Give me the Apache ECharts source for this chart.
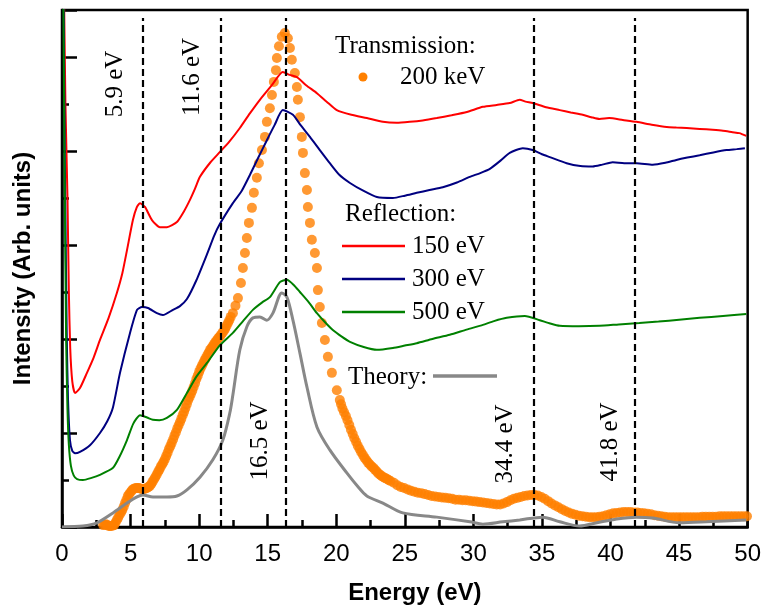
<!DOCTYPE html>
<html>
<head>
<meta charset="utf-8">
<script src="https://cdn.jsdelivr.net/npm/echarts@6/dist/echarts.min.js"></script>
<style>html,body{margin:0;padding:0;background:#fff}#c{width:764px;height:610px}</style>
</head>
<body>
<div id="c"></div>
<script>
// ---- data (Energy in eV, intensity in arbitrary units) ----
const xTicks = [0, 5, 10, 15, 20, 25, 30, 35, 40, 45, 50];
const peakLines = [5.9, 11.6, 16.3, 34.4, 41.8];
const peakLabels = ['5.9 eV', '11.6 eV', '16.5 eV', '34.4 eV', '41.8 eV'];

const reflection150 = [
  [0.12,12],[0.25,9],[0.4,7],[0.5,5],[0.6,3.8],[0.75,3.1],[0.95,2.85],[1.3,2.95],[1.82,3.28],[2.3,3.6],[2.77,3.98],
  [3.4,4.45],[4.0,4.98],[4.4,5.4],[4.74,5.89],[5.17,6.53],[5.45,6.8],[5.69,6.89],[6.05,6.81],[6.56,6.53],[7.14,6.38],
  [7.65,6.38],[8.38,6.49],[8.9,6.72],[9.33,6.96],[9.7,7.2],[10.06,7.45],[10.8,7.75],[11.52,7.98],[12.2,8.2],[12.97,8.49],[13.7,8.8],
  [14.43,9.09],[15.3,9.4],[16.1,9.68],[16.6,9.62],[17.13,9.57],[17.8,9.4],[18.59,9.23],[19.3,9.05],[20.04,8.87],[21.1,8.77],
  [22.23,8.70],[23.4,8.62],[24.4,8.60],[25.36,8.62],[26.3,8.65],[27.33,8.70],[28.4,8.76],[29.52,8.83],[30.69,8.94],[31.7,8.98],
  [32.65,9.02],[33.38,9.09],[33.8,9.05],[34.33,9.02],[35.3,8.93],[36.3,8.87],[37.1,8.82],[37.97,8.77],[38.6,8.72],[39.2,8.68],
  [39.9,8.70],[40.9,8.66],[41.9,8.62],[43.0,8.56],[44.1,8.51],[44.8,8.50],[45.55,8.49],[46.5,8.47],[47.45,8.45],[48.2,8.43],
  [48.9,8.40],[49.4,8.38],[49.9,8.32]
];
const reflection300 = [
  [0.1,12],[0.2,8],[0.35,4],[0.44,2.7],[0.58,1.85],[0.75,1.62],[0.95,1.57],[1.31,1.60],[2.04,1.74],[2.77,2.0],[3.3,2.25],
  [3.72,2.55],[4.23,3.28],[4.96,4.13],[5.47,4.62],[5.83,4.68],[6.27,4.66],[6.92,4.55],[7.36,4.51],[8.09,4.62],[8.6,4.70],[9.11,4.85],
  [9.8,5.25],[10.57,5.80],[11.1,6.2],[11.52,6.45],[12.46,6.89],[13.1,7.15],[13.7,7.49],[14.3,7.85],[14.94,8.23],[15.5,8.55],[16.1,8.87],
  [16.84,8.77],[17.4,8.55],[18.08,8.30],[18.8,8.02],[19.53,7.74],[20.2,7.50],[21.0,7.32],[22.0,7.15],[22.96,7.02],[24.13,7.0],
  [25.0,7.05],[25.87,7.11],[26.8,7.17],[27.77,7.23],[28.8,7.33],[29.74,7.45],[30.5,7.53],[31.2,7.62],[32.0,7.80],[32.65,7.96],
  [33.6,8.06],[34.33,8.02],[35.0,7.93],[35.57,7.87],[36.8,7.74],[37.8,7.68],[38.7,7.67],[39.4,7.71],[40.16,7.76],[41.0,7.74],
  [41.9,7.74],[43.08,7.71],[44.0,7.75],[44.8,7.81],[45.6,7.86],[46.5,7.91],[47.5,7.97],[48.47,8.02],[49.2,8.04],[49.8,8.06]
];
const reflection500 = [
  [0.08,12],[0.18,8],[0.3,4],[0.4,2.5],[0.5,1.75],[0.65,1.3],[0.85,1.1],[1.1,1.02],[1.53,1.0],[2.1,1.04],[2.77,1.11],
  [3.72,1.26],[4.2,1.5],[4.74,1.85],[5.2,2.2],[5.69,2.38],[6.2,2.33],[6.63,2.28],[7.1,2.27],[7.65,2.32],[8.38,2.49],[9.11,2.85],
  [9.8,3.2],[10.57,3.49],[11.52,3.87],[12.46,4.13],[13.2,4.38],[13.92,4.62],[14.6,4.78],[15.16,4.89],[15.89,5.21],[16.4,5.26],
  [16.9,5.15],[17.35,5.0],[18.0,4.78],[18.59,4.55],[19.2,4.35],[19.75,4.19],[20.4,4.05],[21.0,3.94],[22.0,3.83],[22.96,3.77],
  [24.13,3.81],[25.0,3.86],[25.87,3.91],[27.0,4.0],[28.28,4.09],[29.5,4.2],[30.69,4.30],[31.5,4.38],[32.43,4.45],[33.75,4.49],
  [34.84,4.40],[35.6,4.33],[36.3,4.28],[37.7,4.27],[39.2,4.28],[40.6,4.31],[42.1,4.34],[43.5,4.37],[45.0,4.41],[46.5,4.45],
  [48.2,4.49],[49.9,4.53]
];
const theory = [
  [0,0],[1.53,0.02],[2.55,0.09],[3.72,0.30],[4.74,0.51],[5.47,0.64],[5.9,0.68],[6.63,0.64],[7.65,0.64],[8.38,0.66],[9.11,0.79],
  [10.06,1.06],[11.0,1.43],[11.73,1.85],[12.24,2.43],[12.46,2.81],[12.97,3.77],[13.48,4.26],[13.92,4.45],[14.43,4.47],
  [14.94,4.40],[15.38,4.55],[16.03,4.98],[16.4,4.89],[16.84,4.40],[17.35,3.70],[17.86,2.98],[18.59,2.13],[19.53,1.64],
  [20.77,1.15],[21.6,0.85],[22.23,0.66],[23.4,0.51],[24.85,0.30],[27.33,0.21],[29.74,0.11],[30.69,0.06],[32.14,0.11],[33.38,0.15],
  [35.06,0.21],[36.3,0.11],[37.75,0.02],[39.0,0.09],[40.45,0.17],[41.9,0.21],[43.08,0.19],[45.04,0.09],[47.0,0.11],[49.9,0.15]
];
const transmission200keV = [
  [3.0,0.04],[3.1,0.05],[3.2,0.06],[3.3,0.04],[3.4,0.02],[3.5,0.02],[3.6,0.02],[3.7,0.03],[3.8,0.04],[3.9,0.09],
  [4.0,0.15],[4.1,0.20],[4.2,0.26],[4.3,0.31],[4.4,0.36],[4.5,0.43],[4.6,0.51],[4.7,0.58],[4.8,0.66],[4.9,0.70],
  [5.0,0.74],[5.1,0.78],[5.2,0.81],[5.3,0.82],[5.4,0.83],[5.5,0.83],[5.6,0.83],[5.7,0.82],[5.8,0.81],[5.9,0.81],
  [6.0,0.81],[6.1,0.82],[6.2,0.83],[6.3,0.85],[6.4,0.87],[6.5,0.91],[6.6,0.96],[6.7,1.01],[6.8,1.06],[6.9,1.11],
  [7.0,1.17],[7.1,1.22],[7.2,1.28],[7.3,1.33],[7.4,1.38],[7.5,1.44],[7.6,1.51],[7.7,1.58],[7.8,1.66],[7.9,1.72],
  [8.0,1.79],[8.1,1.86],[8.2,1.94],[8.3,2.01],[8.4,2.09],[8.5,2.16],[8.6,2.23],[8.7,2.30],[8.8,2.38],[8.9,2.45],
  [9.0,2.53],[9.1,2.61],[9.2,2.70],[9.3,2.76],[9.4,2.83],[9.5,2.90],[9.6,2.98],[9.7,3.06],[9.8,3.15],[9.9,3.22],
  [10.0,3.30],[10.1,3.37],[10.2,3.43],[10.3,3.49],[10.4,3.55],[10.5,3.60],[10.6,3.66],[10.7,3.71],[10.8,3.77],[10.9,3.81],
  [11.0,3.85],[11.1,3.90],[11.2,3.94],[11.3,3.98],[11.4,4.02],[11.5,4.05],[11.6,4.09],[11.7,4.13],[11.8,4.17],[11.9,4.22],
  [12.0,4.28],[12.1,4.34],[12.2,4.40],[12.3,4.47],[12.46,4.55],[12.65,4.71],[12.83,4.87],[13.05,5.19],[13.19,5.51],[13.34,5.83],[13.48,6.15],
  [13.63,6.47],[13.85,6.79],[13.99,7.11],[14.21,7.43],[14.36,7.74],[14.58,8.02],[14.80,8.30],[14.94,8.62],[15.16,8.91],
  [15.31,9.19],[15.45,9.47],[15.6,9.72],[15.67,9.98],[15.82,10.23],[16.03,10.43],[16.25,10.51],[16.47,10.40],[16.62,10.19],
  [16.76,9.94],[16.98,9.66],[17.13,9.36],[17.2,9.09],[17.35,8.72],[17.49,8.30],[17.57,7.96],[17.71,7.53],[17.86,7.17],
  [17.93,6.81],[18.08,6.47],[18.22,6.11],[18.44,5.83],[18.59,5.51],[18.66,5.04],[18.8,4.68],[18.95,4.34],[19.17,3.98],
  [19.39,3.62],[19.68,3.28],[20.04,2.91],[20.26,2.70],[20.35,2.61],[20.45,2.52],[20.57,2.44],[20.7,2.36],[20.82,2.27],
  [20.95,2.17],[21.07,2.07],[21.2,1.98],[21.32,1.89],[21.45,1.81],[21.57,1.73],[21.7,1.66],[21.82,1.59],[21.95,1.53],
  [22.07,1.47],[22.2,1.42],[22.32,1.37],[22.45,1.33],[22.57,1.29],[22.7,1.26],[22.82,1.22],[22.95,1.18],[23.07,1.14],
  [23.2,1.11],[23.32,1.08],[23.45,1.06],[23.57,1.04],[23.7,1.02],[23.82,1.00],[23.95,0.98],
  [24.2,0.94],[24.45,0.89],[24.7,0.85],[24.95,0.83],[25.2,0.80],[25.45,0.77],[25.7,0.75],[25.95,0.73],[26.2,0.72],[26.45,0.70],
  [26.7,0.68],[26.95,0.66],[27.2,0.65],[27.45,0.64],[27.7,0.63],[27.95,0.62],[28.2,0.61],[28.45,0.60],[28.7,0.58],[28.95,0.58],
  [29.2,0.57],[29.45,0.57],[29.7,0.56],[29.95,0.55],[30.2,0.54],[30.45,0.53],[30.7,0.52],[30.95,0.51],[31.2,0.50],[31.45,0.49],
  [31.7,0.48],[31.95,0.48],[32.2,0.50],[32.45,0.53],[32.7,0.57],[32.95,0.60],[33.2,0.62],[33.45,0.64],[33.7,0.66],[33.95,0.67],
  [34.2,0.68],[34.45,0.68],[34.7,0.67],[34.95,0.64],[35.2,0.60],[35.45,0.55],[35.7,0.50],[35.95,0.46],[36.2,0.42],[36.45,0.38],
  [36.7,0.34],[36.95,0.31],[37.2,0.28],[37.45,0.26],[37.7,0.24],[37.95,0.23],[38.2,0.22],[38.45,0.21],[38.7,0.21],[38.95,0.21],
  [39.2,0.22],[39.45,0.23],[39.7,0.25],[39.95,0.27],[40.2,0.29],[40.45,0.30],[40.7,0.31],[40.95,0.32],[41.2,0.32],[41.45,0.32],
  [41.7,0.31],[41.95,0.31],[42.2,0.30],[42.45,0.29],[42.7,0.28],[42.95,0.27],[43.2,0.25],[43.45,0.24],[43.7,0.23],[43.95,0.22],
  [44.2,0.21],[44.45,0.21],[44.7,0.21],[44.95,0.21],[45.2,0.21],[45.45,0.21],[45.7,0.21],[45.95,0.21],[46.2,0.21],[46.45,0.21],
  [46.7,0.22],[46.95,0.22],[47.2,0.22],[47.45,0.22],[47.7,0.22],[47.95,0.23],[48.2,0.23],[48.45,0.23],[48.7,0.23],[48.95,0.23],
  [49.2,0.23],[49.45,0.23],[49.7,0.23],[49.95,0.23]
];

// ---- styling ----
const C = { red:'#ff0000', blue:'#000080', green:'#008000', orange:'#ff8000', grey:'#888888' };
const SERIF = '"Liberation Serif", "Times New Roman", serif';
const SANS = '"Liberation Sans", Arial, sans-serif';

const chart = echarts.init(document.getElementById('c'), null, { renderer: 'canvas' });

function txt(text, x, y) {
  return { type: 'text', x: x, y: y, z: 100,
    style: { text: text, font: '25px ' + SERIF, fill: '#000', align: 'left', verticalAlign: 'middle' } };
}
const graphics = [];
// legend texts & keys
graphics.push(txt('Transmission:', 335, 46));
graphics.push({ type:'circle', shape:{ cx:363, cy:77, r:4.5 }, style:{ fill:C.orange }, z:100 });
graphics.push(txt('200 keV', 400, 77));
graphics.push(txt('Reflection:', 345, 214));
[[C.red,'150 eV',246],[C.blue,'300 eV',279],[C.green,'500 eV',312]].forEach(function (r) {
  graphics.push({ type:'line', shape:{ x1:342, y1:r[2], x2:405, y2:r[2] }, style:{ stroke:r[0], lineWidth:2.5 }, z:100 });
  graphics.push(txt(r[1], 412, r[2]));
});
graphics.push(txt('Theory:', 348, 377));
graphics.push({ type:'line', shape:{ x1:433, y1:376, x2:497, y2:376 }, style:{ stroke:C.grey, lineWidth:3.5 }, z:100 });
// rotated peak labels
const labelPos = [[115,84],[192,77],[260,441],[505,444],[610,442]];
peakLabels.forEach(function (t, i) {
  graphics.push({ type:'text', x:labelPos[i][0], y:labelPos[i][1], rotation:Math.PI/2, z:100,
    style:{ text:t, font:'25px ' + SERIF, fill:'#000', align:'center', verticalAlign:'middle' } });
});

const option = {
  animation: false,
  backgroundColor: '#fff',
  grid: { left: 62, right: 16, top: 10, bottom: 83, show: true, borderColor: '#000', borderWidth: 2.5 },
  xAxis: {
    type: 'value', min: 0, max: 50, interval: 5,
    name: 'Energy (eV)', nameLocation: 'middle', nameGap: 54,
    nameTextStyle: { fontFamily: SANS, fontWeight: 'bold', fontSize: 24, color: '#000', padding: [0, 0, 0, 20] },
    axisLine: { lineStyle: { color: '#000', width: 2.5 } },
    axisTick: { inside: true, length: 13, lineStyle: { color: '#000', width: 2.5 } },
    minorTick: { show: true, splitNumber: 2, length: 7, lineStyle: { color: '#000', width: 2.5 } },
    axisLabel: { fontFamily: SANS, fontSize: 24, color: '#000', margin: 15,
      formatter: function (v) { return xTicks.indexOf(v) >= 0 ? String(v) : ''; } },
    splitLine: { show: false }
  },
  yAxis: [{
    type: 'value', min: 0, max: 11, interval: 2, position: 'left',
    name: 'Intensity (Arb. units)', nameLocation: 'middle', nameGap: 27,
    nameTextStyle: { fontFamily: SANS, fontWeight: 'bold', fontSize: 24, color: '#000' },
    axisLine: { lineStyle: { color: '#000', width: 2.5 } },
    axisTick: { inside: true, length: 15, lineStyle: { color: '#000', width: 2.5 } },
    axisLabel: { show: false }, splitLine: { show: false }
  }, {
    type: 'value', min: 0, max: 11, interval: 1, position: 'left', offset: 0,
    axisLine: { show: false },
    axisTick: { inside: true, length: 7, lineStyle: { color: '#000', width: 2.5 } },
    axisLabel: { show: false }, splitLine: { show: false }
  }],
  series: [
    { name: '200 keV', type: 'scatter', data: transmission200keV, symbol: 'circle', symbolSize: 10,
      itemStyle: { color: C.orange }, z: 1, silent: true },
    { name: 'Theory', type: 'line', data: theory, showSymbol: false, smooth: 0.3, z: 2,
      lineStyle: { color: C.grey, width: 3 },
      markLine: { symbol: 'none', silent: true, label: { show: false },
        lineStyle: { color: '#000', width: 2.2, type: [7, 4] },
        data: peakLines.map(function (x) { return [{ coord: [x, 0] }, { coord: [x, 10.83] }]; }) } },
    { name: '150 eV', type: 'line', data: reflection150, showSymbol: false, smooth: 0.2, z: 3, lineStyle: { color: C.red, width: 2 } },
    { name: '300 eV', type: 'line', data: reflection300, showSymbol: false, smooth: 0.2, z: 3, lineStyle: { color: C.blue, width: 2 } },
    { name: '500 eV', type: 'line', data: reflection500, showSymbol: false, smooth: 0.2, z: 3, lineStyle: { color: C.green, width: 2 } }
  ],
  graphic: graphics
};
chart.setOption(option);
</script>
</body>
</html>
